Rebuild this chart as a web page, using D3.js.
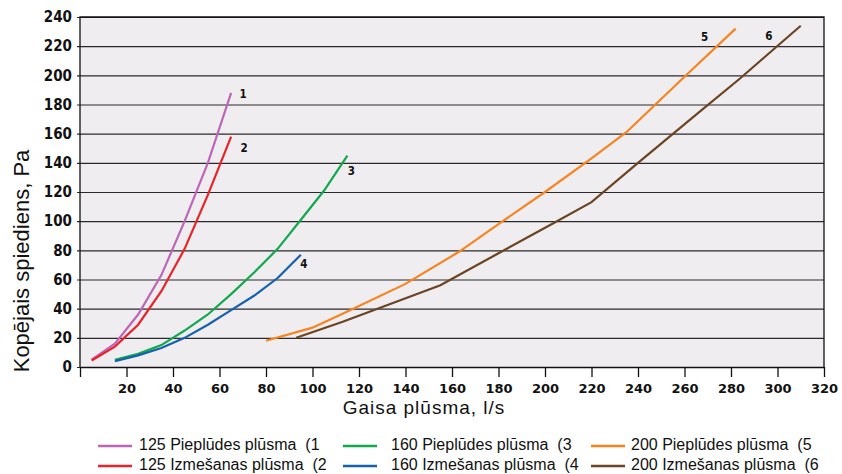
<!DOCTYPE html>
<html>
<head>
<meta charset="utf-8">
<script src="https://cdnjs.cloudflare.com/ajax/libs/d3/7.8.5/d3.min.js"></script>
<style>
  body { margin: 0; background: #ffffff; }
  .tick text { font-family: "DejaVu Sans Condensed", "DejaVu Sans", sans-serif; font-weight: bold; font-size: 15px; fill: #111; }
  .xaxis .tick text { font-family: "DejaVu Sans", sans-serif; font-size: 13px; }
  .axisTitle { font-family: "Liberation Sans", Arial, sans-serif; fill: #111; }
  .curveLabel { font-family: "DejaVu Sans Condensed", "DejaVu Sans", sans-serif; font-weight: bold; font-size: 11.5px; fill: #111; }
  .legendText { font-family: "Liberation Sans", Arial, sans-serif; font-size: 16px; fill: #111; white-space: pre; }
</style>
</head>
<body>
<script>
// size of svg
var fullWidth = 842;
var fullHeight = 474;

// margins around the plot area
var margin = {top: 17, right: 18, bottom: 107, left: 80};
var width = fullWidth - margin.left - margin.right;
var height = fullHeight - margin.top - margin.bottom;

// series: air flow (l/s) and total pressure (Pa)
var flow1 = [5, 15, 25, 35, 45, 55, 65];
var pressure1 = [5, 16, 36, 63, 100, 140, 188];
var flow2 = [5, 15, 25, 35, 45, 55, 65];
var pressure2 = [4.5, 14, 29, 52, 81, 118, 158];
var flow3 = [15, 25, 35, 45, 55, 65, 75, 85, 95, 105, 115];
var pressure3 = [5, 9, 15, 25, 36, 50, 65, 81, 101, 121, 145];
var flow4 = [15, 25, 35, 45, 55, 65, 75, 85, 95];
var pressure4 = [4, 8, 13, 20, 29, 39, 49, 61, 77];
var flow5 = [80, 100, 115, 140, 163, 180, 200, 220, 235, 260, 282];
var pressure5 = [18, 27, 38, 57, 79, 98, 120, 143, 161, 199, 232];
var flow6 = [93, 113, 155, 180, 203, 220, 240, 265, 284, 310];
var pressure6 = [20, 31, 56, 78, 98, 113, 140, 173, 198, 234];

// series names, curve numbers and colors
var seriesNames = ["125 Pieplūdes plūsma  (1", "125 Izmešanas plūsma  (2",
                   "160 Pieplūdes plūsma  (3", "160 Izmešanas plūsma  (4",
                   "200 Pieplūdes plūsma  (5", "200 Izmešanas plūsma  (6"];
var curveNumbers = ["1", "2", "3", "4", "5", "6"];
var seriesColors = ["#bd66b8", "#e8232a", "#12a84e", "#1661ae", "#f7841f", "#6b4523"];

// axis ticks
var xTicks = [0, 20, 40, 60, 80, 100, 120, 140, 160, 180, 200, 220, 240, 260, 280, 300, 320];
var yTicks = [0, 20, 40, 60, 80, 100, 120, 140, 160, 180, 200, 220, 240];

// offsets of the curve numbers from the last point of each curve
var labelOffsets = [[12, 5.5], [13, 15], [4, 19.5], [3, 13], [-31, 12], [-32, 14]];

var flows = [flow1, flow2, flow3, flow4, flow5, flow6];
var pressures = [pressure1, pressure2, pressure3, pressure4, pressure5, pressure6];

var series = seriesNames.map(function(name, i) {
    return {
        name: name,
        number: curveNumbers[i],
        color: seriesColors[i],
        points: flows[i].map(function(f, j) { return {x: f, y: pressures[i][j]}; })
    };
});

var svg = d3.select("body")
            .append("svg")
            .attr("width", fullWidth)
            .attr("height", fullHeight);

var xScale = d3.scaleLinear()
               .domain([0, 320])
               .range([margin.left, margin.left + width]);

var yScale = d3.scaleLinear()
               .domain([0, 240])
               .range([margin.top + height, margin.top]);

// plot background
svg.append("rect")
   .attr("x", xScale(0))
   .attr("y", yScale(240))
   .attr("width", xScale(320) - xScale(0))
   .attr("height", yScale(0) - yScale(240))
   .style("fill", "#efedf0");

// horizontal grid lines with small ticks to the left
svg.append("g")
   .attr("class", "grid")
   .attr("transform", "translate(" + margin.left + ",0)")
   .call(d3.axisLeft(yScale).tickValues(yTicks).tickSize(-width).tickSizeOuter(0).tickFormat(""))
   .call(function(g) { g.select(".domain").remove(); })
   .selectAll("line")
   .attr("x1", -3)
   .style("stroke", "#2a2a2a")
   .style("stroke-width", 1.2);

// y axis labels
svg.append("g")
   .attr("class", "axis")
   .attr("transform", "translate(" + margin.left + ",0)")
   .call(d3.axisLeft(yScale).tickValues(yTicks).tickSize(0).tickPadding(8))
   .call(function(g) { g.select(".domain").remove(); });

// x axis
svg.append("g")
   .attr("class", "axis xaxis")
   .attr("transform", "translate(0," + yScale(0) + ")")
   .call(d3.axisBottom(xScale).tickValues(xTicks).tickSize(10).tickSizeOuter(0).tickPadding(7)
           .tickFormat(function(d) { return d === 0 ? "" : d; }))
   .call(function(g) {
       g.select(".domain").style("stroke", "#111").style("stroke-width", 1.3);
       g.selectAll("line").style("stroke", "#111").style("stroke-width", 1.3);
   });

// frame on left, top and right
svg.append("path")
   .attr("d", "M" + xScale(0) + "," + yScale(0) + "V" + yScale(240) + "H" + xScale(320) + "V" + yScale(0))
   .style("fill", "none")
   .style("stroke", "#111")
   .style("stroke-width", 1.3);

// draw curves
var line = d3.line()
             .x(function(d) { return xScale(d.x); })
             .y(function(d) { return yScale(d.y); });

svg.selectAll(".curve")
   .data(series)
   .enter()
   .append("path")
   .attr("class", "curve")
   .attr("d", function(d) { return line(d.points); })
   .style("fill", "none")
   .style("stroke", function(d) { return d.color; })
   .style("stroke-width", 2.2);

// curve numbers
svg.selectAll(".curveLabel")
   .data(series)
   .enter()
   .append("text")
   .attr("class", "curveLabel")
   .attr("x", function(d, i) { return xScale(d.points[d.points.length - 1].x) + labelOffsets[i][0]; })
   .attr("y", function(d, i) { return yScale(d.points[d.points.length - 1].y) + labelOffsets[i][1]; })
   .style("text-anchor", "middle")
   .text(function(d) { return d.number; });

// axis titles
svg.append("text")
   .attr("class", "axisTitle")
   .attr("x", 424)
   .attr("y", 414)
   .style("font-size", "19px")
   .style("letter-spacing", "1px")
   .style("text-anchor", "middle")
   .text("Gaisa plūsma, l/s");

svg.append("text")
   .attr("class", "axisTitle")
   .attr("transform", "rotate(-90)")
   .attr("x", -261)
   .attr("y", 28.5)
   .style("font-size", "22px")
   .style("text-anchor", "middle")
   .text("Kopējais spiediens, Pa");

// legend in three columns of two rows
var legendLineX = [98, 343, 591];
var legendTextX = [139, 391, 631];
var legendRowY = [446, 466];

var legend = svg.selectAll(".legend")
                .data(series)
                .enter()
                .append("g")
                .attr("class", "legend");

legend.append("line")
      .attr("x1", function(d, i) { return legendLineX[Math.floor(i / 2)]; })
      .attr("x2", function(d, i) { return legendLineX[Math.floor(i / 2)] + 34; })
      .attr("y1", function(d, i) { return legendRowY[i % 2]; })
      .attr("y2", function(d, i) { return legendRowY[i % 2]; })
      .style("stroke", function(d) { return d.color; })
      .style("stroke-width", 2.5);

legend.append("text")
      .attr("class", "legendText")
      .attr("x", function(d, i) { return legendTextX[Math.floor(i / 2)]; })
      .attr("y", function(d, i) { return legendRowY[i % 2] + 4; })
      .text(function(d) { return d.name; });
</script>
</body>
</html>
